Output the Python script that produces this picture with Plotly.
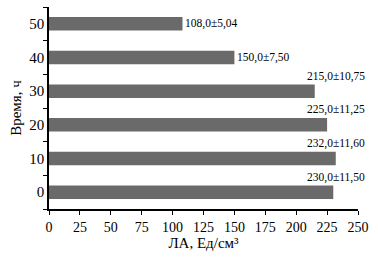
import plotly.graph_objects as go

categories = ["0", "10", "20", "30", "40", "50"]
values = [230.0, 232.0, 225.0, 215.0, 150.0, 108.0]
labels = ["230,0±11,50", "232,0±11,60", "225,0±11,25", "215,0±10,75", "150,0±7,50", "108,0±5,04"]
x_ticks = [0, 25, 50, 75, 100, 125, 150, 175, 200, 225, 250]

FONT = "Liberation Serif, Times New Roman, serif"

fig = go.Figure(go.Bar(
    x=values, y=categories, orientation="h",
    marker=dict(color="#6a6a6a", line=dict(width=0)),
    width=0.4, hoverinfo="skip",
))

annotations = []
for i, (v, t) in enumerate(zip(values, labels)):
    if v > 200:
        annotations.append(dict(x=1, xref="paper", y=i, yref="y", text=t,
                                showarrow=False, xanchor="right", yanchor="middle",
                                xshift=9, yshift=15,
                                font=dict(family=FONT, size=11.5, color="black")))
    else:
        annotations.append(dict(x=v, xref="x", y=i, yref="y", text=t,
                                showarrow=False, xanchor="left", yanchor="middle",
                                xshift=1,
                                font=dict(family=FONT, size=11.5, color="black")))

fig.update_layout(
    width=378, height=260,
    margin=dict(l=48.5, r=20, t=7, b=51, autoexpand=False),
    paper_bgcolor="white", plot_bgcolor="white",
    showlegend=False,
    font=dict(family=FONT, color="black", size=14),
    annotations=annotations,
    xaxis=dict(
        range=[0, 250], tickvals=x_ticks, ticktext=[str(v) for v in x_ticks],
        automargin=False,
        showgrid=False, zeroline=False, showline=True, linecolor="black", linewidth=1.5,
        ticks="outside", ticklen=4, tickwidth=1.2, tickcolor="black",
        tickfont=dict(family=FONT, size=14),
        title=dict(text="ЛА, Ед/см³", font=dict(family=FONT, size=15), standoff=4),
    ),
    yaxis=dict(
        type="category", categoryorder="array", categoryarray=categories,
        range=[-0.5, 5.5], automargin=False,
        showgrid=False, zeroline=False, showline=True, linecolor="black", linewidth=1.5,
        ticks="outside", ticklen=4, tickwidth=1.2, tickcolor="black", tickson="boundaries",
        tickfont=dict(family=FONT, size=15),
        title=dict(text="Время, ч", font=dict(family=FONT, size=15), standoff=4),
    ),
)

fig.write_html("out.html", config={"displayModeBar": False},
               post_script="document.body.style.margin='0';")
